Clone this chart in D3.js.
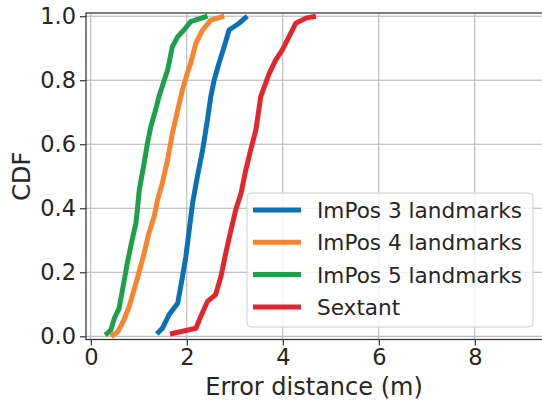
<!DOCTYPE html>
<html>
<head>
<meta charset="utf-8">
<script src="https://cdn.jsdelivr.net/npm/d3@7"></script>
<style>
  body { margin: 0; background: #fff; }
  svg { display: block; font-family: "DejaVu Sans", sans-serif; }
  .tick text { fill: #262626; font-size: 22.5px; font-family: "DejaVu Sans", sans-serif; }
</style>
</head>
<body>
<div id="chart"></div>
<script>
// values (error distance in m, cumulative fraction)
var seriesNames = ["ImPos 3 landmarks", "ImPos 4 landmarks", "ImPos 5 landmarks", "Sextant"];
var seriesColors = ["#0a72b4", "#f7842f", "#1ca04a", "#e3262d"];

var imPos3Err = [1.375, 1.49, 1.63, 1.81, 1.91, 1.98, 2.05, 2.12, 2.22, 2.33, 2.43, 2.5, 2.57, 2.67, 2.78, 2.88, 3.09, 3.26];
var imPos3Cdf = [0.007, 0.025, 0.067, 0.103, 0.186, 0.249, 0.332, 0.416, 0.499, 0.582, 0.676, 0.749, 0.8, 0.853, 0.905, 0.957, 0.978, 1.0];

var imPos4Err = [0.42, 0.56, 0.69, 0.8, 0.9, 1.0, 1.11, 1.21, 1.32, 1.39, 1.49, 1.6, 1.7, 1.81, 1.91, 2.01, 2.08, 2.19, 2.33, 2.5, 2.78];
var imPos4Cdf = [0.0, 0.014, 0.051, 0.093, 0.145, 0.197, 0.259, 0.322, 0.374, 0.426, 0.478, 0.551, 0.634, 0.707, 0.77, 0.822, 0.853, 0.916, 0.957, 0.988, 1.0];

var imPos5Err = [0.3, 0.42, 0.49, 0.59, 0.66, 0.76, 0.83, 0.94, 0.97, 1.01, 1.11, 1.18, 1.25, 1.35, 1.42, 1.53, 1.6, 1.7, 1.81, 1.94, 2.08, 2.43];
var imPos5Cdf = [0.004, 0.02, 0.056, 0.088, 0.145, 0.228, 0.28, 0.353, 0.395, 0.457, 0.54, 0.603, 0.655, 0.707, 0.749, 0.8, 0.832, 0.905, 0.936, 0.957, 0.983, 1.0];

var sextantErr = [1.65, 2.19, 2.29, 2.43, 2.6, 2.71, 2.81, 2.92, 3.02, 3.13, 3.23, 3.33, 3.44, 3.54, 3.72, 3.85, 3.99, 4.13, 4.27, 4.48, 4.69];
var sextantCdf = [0.007, 0.025, 0.062, 0.109, 0.13, 0.186, 0.259, 0.332, 0.395, 0.447, 0.52, 0.582, 0.645, 0.749, 0.822, 0.863, 0.895, 0.936, 0.978, 0.994, 1.0];

var xTicks = [0, 2, 4, 6, 8];
var yTicks = [0, 0.2, 0.4, 0.6, 0.8, 1.0];

var series = [
	{ name: seriesNames[0], color: seriesColors[0], err: imPos3Err, cdf: imPos3Cdf },
	{ name: seriesNames[1], color: seriesColors[1], err: imPos4Err, cdf: imPos4Cdf },
	{ name: seriesNames[2], color: seriesColors[2], err: imPos5Err, cdf: imPos5Cdf },
	{ name: seriesNames[3], color: seriesColors[3], err: sextantErr, cdf: sextantCdf }
];

var width = 542, height = 400;
var plot = { left: 86, right: 548, top: 13, bottom: 339.5 };

var svg = d3.select("#chart").append("svg")
	.attr("width", width)
	.attr("height", height);

var x = d3.scaleLinear()
	.domain([-0.1, 9.525])
	.range([plot.left, plot.right]);

var y = d3.scaleLinear()
	.domain([-0.01, 1.01])
	.range([plot.bottom, plot.top]);

// grid
var grid = svg.append("g").attr("class", "grid");
grid.selectAll("line.gx")
	.data(xTicks)
	.enter().append("line")
	.attr("class", "gx")
	.attr("x1", function(d) { return x(d); })
	.attr("x2", function(d) { return x(d); })
	.attr("y1", plot.top)
	.attr("y2", plot.bottom)
	.attr("stroke", "#b0b0b0")
	.attr("stroke-width", 1);
grid.selectAll("line.gy")
	.data(yTicks)
	.enter().append("line")
	.attr("class", "gy")
	.attr("x1", plot.left)
	.attr("x2", plot.right)
	.attr("y1", function(d) { return y(d); })
	.attr("y2", function(d) { return y(d); })
	.attr("stroke", "#b0b0b0")
	.attr("stroke-width", 1);

// curves
var line = d3.line()
	.x(function(d) { return x(d[0]); })
	.y(function(d) { return y(d[1]); });

svg.append("g")
	.selectAll("path")
	.data(series)
	.enter().append("path")
	.attr("d", function(s) { return line(d3.zip(s.err, s.cdf)); })
	.attr("fill", "none")
	.attr("stroke", function(s) { return s.color; })
	.attr("stroke-width", 5)
	.attr("stroke-linejoin", "round");

// axes
var xAxis = d3.axisBottom(x)
	.tickValues(xTicks)
	.tickFormat(d3.format("d"))
	.tickSize(6)
	.tickPadding(4);

var yAxis = d3.axisLeft(y)
	.tickValues(yTicks)
	.tickFormat(d3.format(".1f"))
	.tickSize(6)
	.tickPadding(4);

var xAxisG = svg.append("g")
	.attr("transform", "translate(0," + plot.bottom + ")")
	.call(xAxis);
var yAxisG = svg.append("g")
	.attr("transform", "translate(" + plot.left + ",0)")
	.call(yAxis);

[xAxisG, yAxisG].forEach(function(g) {
	g.attr("font-size", null).attr("font-family", null);
	g.select(".domain").remove();
	g.selectAll(".tick line").attr("stroke", "#333").attr("stroke-width", 1.2);
});

// frame
svg.append("rect")
	.attr("x", plot.left)
	.attr("y", plot.top)
	.attr("width", plot.right - plot.left)
	.attr("height", plot.bottom - plot.top)
	.attr("fill", "none")
	.attr("stroke", "#333")
	.attr("stroke-width", 1.25);

// axis labels
svg.append("text")
	.attr("x", (plot.left + 542) / 2)
	.attr("y", 395)
	.attr("text-anchor", "middle")
	.attr("font-size", 24)
	.attr("fill", "#262626")
	.text("Error distance (m)");

svg.append("text")
	.attr("transform", "translate(30," + y(0.5) + ") rotate(-90)")
	.attr("text-anchor", "middle")
	.attr("font-size", 24)
	.attr("fill", "#262626")
	.text("CDF");

// legend
var legend = svg.append("g").attr("class", "legend");
legend.append("rect")
	.attr("x", 247)
	.attr("y", 193)
	.attr("width", 286)
	.attr("height", 134)
	.attr("rx", 4)
	.attr("fill", "#fff")
	.attr("fill-opacity", 0.8)
	.attr("stroke", "#cccccc")
	.attr("stroke-width", 1);

var rows = legend.selectAll("g.row")
	.data(series)
	.enter().append("g")
	.attr("class", "row")
	.attr("transform", function(d, i) { return "translate(0," + (210 + i * 32.3) + ")"; });

rows.append("line")
	.attr("x1", 253)
	.attr("x2", 301)
	.attr("y1", 0)
	.attr("y2", 0)
	.attr("stroke", function(d) { return d.color; })
	.attr("stroke-width", 5);

rows.append("text")
	.attr("x", 317)
	.attr("y", 8)
	.attr("font-size", 21.6)
	.attr("fill", "#262626")
	.text(function(d) { return d.name; });
</script>
</body>
</html>
